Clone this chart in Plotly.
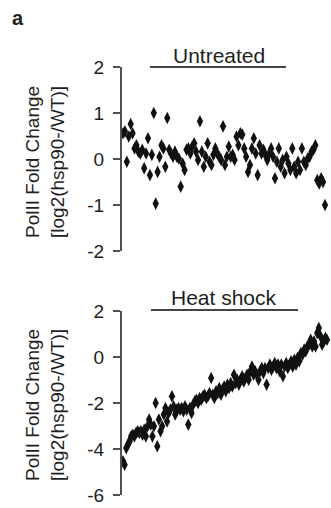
import plotly.graph_objects as go

# Untreated: log2(hsp90-/WT) PolII fold change per gene (gene order as in figure)
untreated = [0.56, 0.60, -0.06, 0.49, 0.76, 0.56, 0.23, 0.30, 0.16, 0.12, 0.20, -0.20,
             0.12, 0.45, -0.35, 0.09, 1.00, -0.97, -0.28, 0.05, 0.30, 0.23, -0.17, 0.89,
             0.20, 0.12, 0.05, 0.16, 0.05, 0.01, -0.60, -0.10, -0.24, 0.20, 0.23, 0.12,
             0.27, 0.34, 0.16, -0.02, 0.82, 0.16, -0.17, 0.05, 0.34, -0.06, -0.13, 0.09,
             0.23, 0.12, 0.05, -0.02, 0.71, -0.13, 0.05, 0.27, 0.05, 0.09, -0.02, 0.49,
             0.30, 0.56, 0.53, 0.23, 0.05, -0.28, -0.13, 0.23, 0.45, 0.12, -0.35, 0.30,
             0.12, 0.20, 0.09, -0.02, 0.12, 0.23, 0.05, -0.42, -0.06, 0.23, -0.17, -0.02,
             -0.31, 0.05, -0.10, -0.24, 0.23, -0.17, -0.31, -0.06, -0.24, 0.23, -0.06,
             -0.13, 0.01, 0.05, 0.16, 0.20, 0.30, -0.46, -0.53, -0.42, -0.50, -1.00]

# Heat shock: log2(hsp90-/WT) PolII fold change per gene (sorted order as in figure)
heat_shock = [-4.54, -4.68, -3.96, -3.81, -3.67, -3.45, -3.38, -3.45, -3.30, -3.23, -3.30,
              -3.23, -3.38, -3.16, -3.45, -3.01, -2.72, -2.94, -3.45, -3.01, -2.00, -3.88,
              -2.72, -3.23, -3.01, -2.50, -2.22, -2.80, -2.43, -2.29, -1.71, -2.14, -2.50,
              -2.29, -2.22, -2.29, -2.22, -2.36, -2.14, -2.29, -2.94, -2.22, -2.43, -2.07,
              -1.93, -1.86, -2.00, -1.78, -1.86, -1.71, -1.64, -1.78, -1.71, -1.57, -0.91,
              -1.64, -1.78, -1.49, -1.57, -1.35, -1.64, -1.42, -1.28, -1.49, -1.20, -1.35,
              -1.13, -1.28, -0.77, -1.13, -0.99, -1.20, -0.99, -0.84, -1.06, -0.91, -0.77,
              -0.99, -0.62, -0.41, -0.77, -0.62, -0.77, -0.99, -0.62, -0.48, -0.70, -0.48,
              -1.20, -0.48, -0.33, -0.55, -0.41, -0.26, -0.48, -0.33, -0.62, -0.33, -0.84,
              -0.41, -0.26, -0.48, -0.33, -0.19, -0.41, -0.12, -0.33, -0.04, -0.19, 0.17,
              0.10, 0.32, 0.25, 0.46, 0.54, 0.75, 0.46, 0.68, 0.46, 1.04, 1.26, 0.90, 0.54,
              0.68, 0.83, 0.75]

top_ticks = [-2, -1, 0, 1, 2]
top_ticktext = ["-2", "-1", "0", "1", "2"]
bottom_ticks = [-6, -4, -2, 0, 2]
bottom_ticktext = ["-6", "-4", "-2", "0", "2"]
panel_titles = ["Untreated", "Heat shock"]
ytitle_line1 = "PolII Fold Change"
ytitle_line2 = "[log2(hsp90-/WT)]"

W, H = 331, 508
FONT = "Liberation Sans, Arial, sans-serif"
TXT = "#1e1e1e"
AX = "#505050"

fig = go.Figure()


def xr(n, first_px=123.0, last_px=325.0, left_px=122.0, right_px=331.0):
    # x range so that first point sits at first_px and last at last_px
    s = (last_px - first_px) / (n - 1)
    r0 = -(first_px - left_px) / s
    r1 = r0 + (right_px - left_px) / s
    return [r0, r1]


fig.add_trace(go.Scatter(
    x=list(range(len(untreated))), y=untreated, mode="markers",
    marker=dict(symbol="diamond-tall", size=9, color="#111111"),
    xaxis="x", yaxis="y", showlegend=False, hoverinfo="y", cliponaxis=False))
fig.add_trace(go.Scatter(
    x=list(range(len(heat_shock))), y=heat_shock, mode="markers",
    marker=dict(symbol="diamond-tall", size=9, color="#111111"),
    xaxis="x2", yaxis="y2", showlegend=False, hoverinfo="y", cliponaxis=False))

xdom = [122 / W, 1.0]
top_dom = [1 - 251 / H, 1 - 67 / H]
bot_dom = [1 - 495 / H, 1 - 311 / H]

yax_common = dict(showgrid=False, zeroline=False, showline=True, linecolor=AX,
                  linewidth=2, ticks="outside", ticklen=7, tickwidth=1.5,
                  tickcolor=AX, automargin=False, ticklabelstandoff=5,
                  tickfont=dict(family=FONT, size=19, color=TXT))

fig.update_layout(
    width=W, height=H, margin=dict(l=0, r=0, t=0, b=0, pad=0, autoexpand=False),
    paper_bgcolor="white", plot_bgcolor="white",
    xaxis=dict(domain=xdom, range=xr(len(untreated)), visible=False, anchor="y", automargin=False),
    yaxis=dict(domain=top_dom, range=[-2, 2], tickvals=top_ticks, ticktext=top_ticktext,
               anchor="x", **yax_common),
    xaxis2=dict(domain=xdom, range=xr(len(heat_shock), last_px=327.0), visible=False,
                anchor="y2", automargin=False),
    yaxis2=dict(domain=bot_dom, range=[-6, 2], tickvals=bottom_ticks, ticktext=bottom_ticktext,
                anchor="x2", **yax_common),
)

annos = []
# panel label
annos.append(dict(text="<b>a</b>", x=18 / W, y=1 - 18 / H, xref="paper", yref="paper",
                  xanchor="center", yanchor="middle",
                  showarrow=False, font=dict(family=FONT, size=20, color=TXT)))
# panel titles with lines
for title, cx, cy, x0, x1, ly in [(panel_titles[0], 219, 55, 150, 286, 67),
                                   (panel_titles[1], 224, 297, 151, 298, 310)]:
    annos.append(dict(text=title, x=cx / W, y=1 - cy / H, xref="paper", yref="paper",
                      xanchor="center", yanchor="middle",
                      showarrow=False, font=dict(family=FONT, size=21, color=TXT)))
    fig.add_shape(type="line", xref="paper", yref="paper", x0=x0 / W, x1=x1 / W,
                  y0=1 - ly / H, y1=1 - ly / H, line=dict(color="#444444", width=2))
# y-axis titles
for cy in [162, 405]:
    annos.append(dict(text=ytitle_line1, x=32 / W, y=1 - cy / H, xref="paper", yref="paper",
                      xanchor="center", yanchor="middle",
                      showarrow=False, textangle=-90,
                      font=dict(family=FONT, size=19, color=TXT)))
    annos.append(dict(text=ytitle_line2, x=57 / W, y=1 - cy / H, xref="paper", yref="paper",
                      xanchor="center", yanchor="middle",
                      showarrow=False, textangle=-90,
                      font=dict(family=FONT, size=19, color=TXT)))
fig.update_layout(annotations=annos)

fig.write_html("out.html")
